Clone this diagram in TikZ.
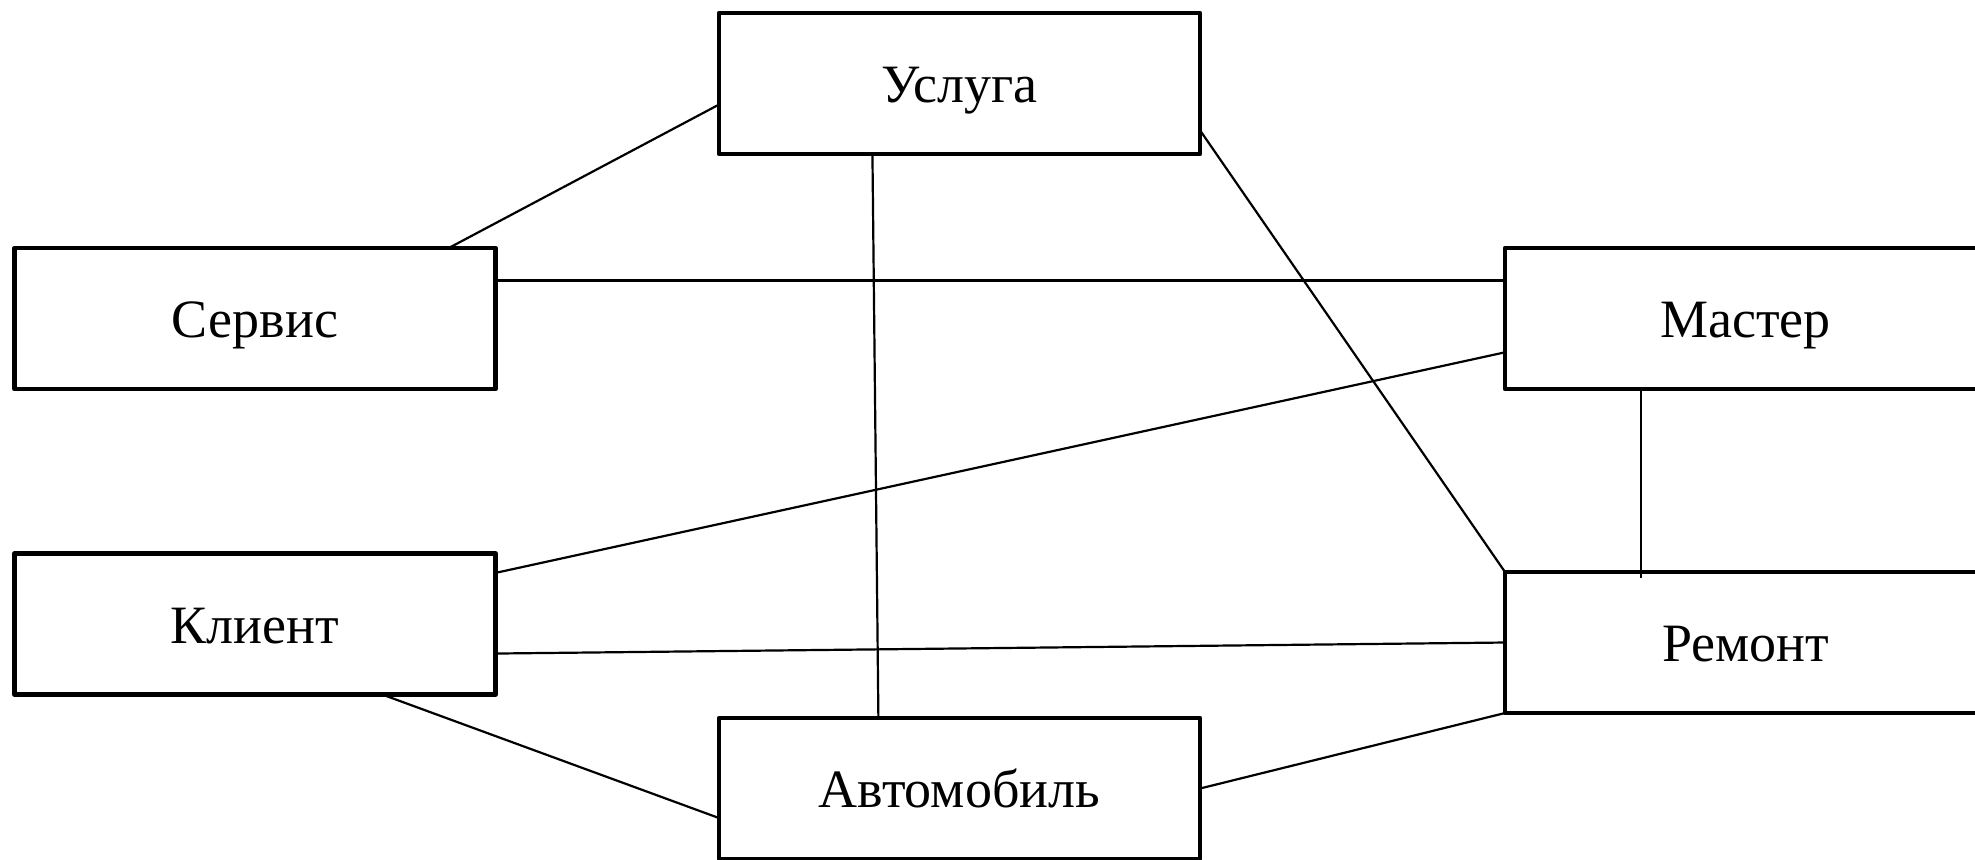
\documentclass[tikz,border=0pt]{standalone}
\usepackage{fontspec}
\setmainfont{Liberation Serif}
\usetikzlibrary{positioning,calc}

\begin{document}
\begin{tikzpicture}[x=0.5pt, y=-0.5pt,
    entity/.style={rectangle, draw, line width=2.4pt, line join=round, outer sep=0pt,
        minimum width=240.5pt, minimum height=70.5pt, text height=19pt, text depth=0pt,
        font=\fontsize{27}{31}\selectfont},
    link/.style={line width=1.1pt}]
    \clip (0,0) rectangle (1975,859);

    % Entities
    \node[entity] (usluga) at (959.5,83.5) {Услуга};
    \node[entity] (servis) at (255,318.5) {Сервис};
    \node[entity] (master) at (1745.5,318.5) {Мастер};
    \node[entity] (klient) at (255,624) {Клиент};
    \node[entity] (remont) at (1745.5,642.5) {Ремонт};
    \node[entity] (avto) at (959.5,788.5) {Автомобиль};

    % Links
    \draw[link] (servis.20.2) -- (usluga.185.8);
    \draw[link] (servis.9.1) -- (master.171.1);
    \draw[link] (usluga.219.5) -- (avto.139.1);
    \draw[link] (usluga.349.75) -- (remont.north west);
    \draw[link] (klient.12.2) -- (master.188.9);
    \draw[link] (klient.353.1) -- (remont.west);
    \draw[link] (klient.331.3) -- (avto.187.5);
    \draw[link, shorten >=-3pt] (master.214.8) -- (master.214.8 |- remont.north);
    \draw[link] (avto.east) -- (remont.south west);
\end{tikzpicture}
\end{document}
